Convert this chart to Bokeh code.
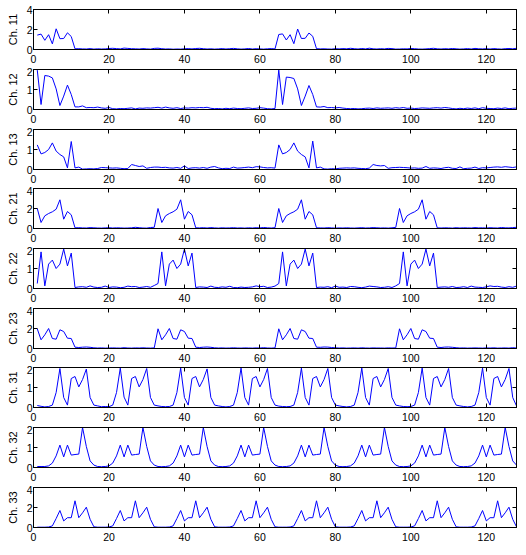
from bokeh.plotting import figure
from bokeh.layouts import column
from bokeh.models import LinearAxis, FixedTicker, Range1d
from bokeh.embed import file_html
from bokeh.resources import INLINE

# ---------------- data ----------------
samples = list(range(1, 129))
x_ticks = [0, 20, 40, 60, 80, 100, 120]

channel_names = ["Ch. 11", "Ch. 12", "Ch. 13", "Ch. 21", "Ch. 22", "Ch. 23",
                 "Ch. 31", "Ch. 32", "Ch. 33"]
y_max = [4, 2, 2, 4, 2, 4, 2, 2, 4]

ch11 = [1.44, 1.54, 0.92, 1.48, 0.56, 2.07, 1.08, 1.10,
        1.67, 1.30, 0.07, 0.08, 0.06, 0.05, 0.09, 0.04,
        0.07, 0.05, 0.06, 0.10, 0.12, 0.09, 0.06, 0.14,
        0.11, 0.08, 0.07, 0.05, 0.09, 0.06, 0.04, 0.11,
        0.13, 0.08, 0.05, 0.06, 0.03, 0.05, 0.04, 0.07,
        0.09, 0.06, 0.10, 0.12, 0.08, 0.05, 0.07, 0.04,
        0.06, 0.09, 0.05, 0.08, 0.11, 0.07, 0.04, 0.06,
        0.10, 0.05, 0.08, 0.06, 0.04, 0.07, 0.09, 0.06,
        1.50, 1.56, 0.95, 1.48, 0.58, 2.05, 1.10, 1.12,
        1.65, 1.32, 0.08, 0.06, 0.07, 0.05, 0.04, 0.08,
        0.06, 0.09, 0.07, 0.12, 0.08, 0.05, 0.10, 0.06,
        0.13, 0.07, 0.05, 0.08, 0.06, 0.11, 0.09, 0.04,
        0.05, 0.07, 0.06, 0.10, 0.08, 0.05, 0.04, 0.06,
        0.09, 0.12, 0.07, 0.05, 0.08, 0.06, 0.10, 0.07,
        0.04, 0.06, 0.09, 0.05, 0.11, 0.07, 0.06, 0.08,
        0.05, 0.09, 0.06, 0.04, 0.08, 0.10, 0.07, 0.12]

ch12 = [1.97, 0.25, 1.70, 1.67, 1.58, 1.03, 0.20, 0.67,
        1.22, 0.75, 0.13, 0.13, 0.18, 0.09, 0.10, 0.09,
        0.12, 0.08, 0.06, 0.10, 0.04, 0.03, 0.05, 0.04,
        0.06, 0.08, 0.03, 0.07, 0.06, 0.08, 0.07, 0.09,
        0.11, 0.07, 0.12, 0.08, 0.06, 0.09, 0.05, 0.08,
        0.07, 0.09, 0.08, 0.10, 0.09, 0.11, 0.06, 0.04,
        0.05, 0.03, 0.06, 0.04, 0.07, 0.05, 0.04, 0.06,
        0.08, 0.05, 0.06, 0.09, 0.07, 0.04, 0.03, 0.05,
        1.97, 0.25, 1.62, 1.60, 1.55, 1.03, 0.20, 0.67,
        1.20, 0.75, 0.13, 0.12, 0.15, 0.09, 0.10, 0.08,
        0.10, 0.07, 0.05, 0.04, 0.05, 0.03, 0.04, 0.06,
        0.07, 0.05, 0.08, 0.06, 0.07, 0.08, 0.06, 0.09,
        0.07, 0.10, 0.06, 0.07, 0.05, 0.06, 0.08, 0.07,
        0.06, 0.08, 0.09, 0.07, 0.10, 0.08, 0.05, 0.03,
        0.06, 0.04, 0.07, 0.05, 0.08, 0.04, 0.09, 0.06,
        0.05, 0.04, 0.07, 0.05, 0.08, 0.04, 0.06, 0.07]

ch13 = [1.23, 0.78, 0.85, 1.00, 1.33, 0.92, 0.75, 0.63,
        0.08, 1.40, 0.08, 0.12, 0.02, 0.03, 0.04, 0.03,
        0.05, 0.10, 0.09, 0.08, 0.07, 0.08, 0.06, 0.04,
        0.05, 0.25, 0.20, 0.15, 0.18, 0.06, 0.10, 0.12,
        0.12, 0.10, 0.11, 0.08, 0.07, 0.10, 0.06, 0.18,
        0.05, 0.08, 0.09, 0.07, 0.10, 0.06, 0.12, 0.15,
        0.08, 0.04, 0.06, 0.05, 0.12, 0.07, 0.08, 0.10,
        0.12, 0.09, 0.14, 0.13, 0.10, 0.08, 0.09, 0.07,
        1.23, 0.78, 0.85, 1.00, 1.33, 0.92, 0.75, 0.63,
        0.08, 1.42, 0.08, 0.12, 0.03, 0.02, 0.04, 0.03,
        0.06, 0.07, 0.08, 0.07, 0.08, 0.06, 0.05, 0.04,
        0.07, 0.25, 0.20, 0.18, 0.20, 0.06, 0.09, 0.10,
        0.11, 0.10, 0.09, 0.07, 0.08, 0.06, 0.07, 0.15,
        0.06, 0.08, 0.07, 0.05, 0.09, 0.11, 0.06, 0.05,
        0.13, 0.04, 0.06, 0.07, 0.12, 0.05, 0.09, 0.08,
        0.10, 0.12, 0.13, 0.11, 0.14, 0.12, 0.10, 0.13]

ch21 = [2.00, 0.60, 1.27, 1.50, 1.67, 1.93, 2.87, 0.93,
        1.70, 1.37, 0.07, 0.08, 0.06, 0.05, 0.09, 0.07,
        0.05, 0.04, 0.06, 0.08, 0.05, 0.07, 0.06, 0.04,
        0.05, 0.07, 0.12, 0.08, 0.05, 0.04, 0.10, 0.12,
        2.00, 0.60, 1.27, 1.50, 1.67, 1.93, 2.87, 0.93,
        1.70, 1.37, 0.07, 0.06, 0.08, 0.05, 0.09, 0.06,
        0.04, 0.07, 0.05, 0.06, 0.08, 0.05, 0.06, 0.04,
        0.07, 0.05, 0.08, 0.06, 0.10, 0.07, 0.05, 0.08,
        2.00, 0.60, 1.27, 1.50, 1.67, 1.93, 2.87, 0.93,
        1.70, 1.37, 0.07, 0.06, 0.05, 0.08, 0.06, 0.04,
        0.06, 0.05, 0.07, 0.05, 0.04, 0.06, 0.08, 0.05,
        0.06, 0.09, 0.07, 0.05, 0.06, 0.04, 0.07, 0.11,
        2.00, 0.60, 1.27, 1.50, 1.67, 1.93, 2.87, 0.93,
        1.70, 1.37, 0.07, 0.05, 0.07, 0.06, 0.04, 0.08,
        0.05, 0.07, 0.06, 0.05, 0.09, 0.06, 0.07, 0.05,
        0.08, 0.06, 0.05, 0.10, 0.07, 0.06, 0.09, 0.12]

ch22 = [0.25, 1.83, 0.13, 1.22, 1.42, 1.00, 1.22, 1.97,
        1.13, 1.77, 0.05, 0.08, 0.09, 0.06, 0.13, 0.07,
        0.05, 0.06, 0.12, 0.05, 0.08, 0.07, 0.04, 0.06,
        0.12, 0.09, 0.10, 0.05, 0.07, 0.10, 0.06, 0.15,
        0.25, 1.83, 0.13, 1.22, 1.42, 1.00, 1.22, 1.97,
        1.13, 1.77, 0.05, 0.08, 0.07, 0.05, 0.12, 0.06,
        0.05, 0.08, 0.06, 0.11, 0.05, 0.04, 0.07, 0.05,
        0.06, 0.08, 0.13, 0.09, 0.11, 0.05, 0.07, 0.12,
        0.25, 1.83, 0.13, 1.22, 1.42, 1.00, 1.22, 1.97,
        1.13, 1.77, 0.05, 0.07, 0.06, 0.09, 0.04, 0.12,
        0.06, 0.07, 0.05, 0.10, 0.09, 0.06, 0.04, 0.07,
        0.12, 0.10, 0.08, 0.05, 0.06, 0.09, 0.05, 0.13,
        0.25, 1.83, 0.13, 1.22, 1.42, 1.00, 1.22, 1.97,
        1.13, 1.77, 0.05, 0.07, 0.08, 0.06, 0.10, 0.05,
        0.06, 0.09, 0.05, 0.12, 0.07, 0.06, 0.05, 0.08,
        0.13, 0.10, 0.11, 0.07, 0.05, 0.09, 0.06, 0.12]

ch23 = [1.97, 0.87, 1.37, 2.00, 1.00, 0.93, 1.87, 1.70,
        1.03, 1.00, 0.13, 0.10, 0.13, 0.15, 0.12, 0.07,
        0.05, 0.06, 0.04, 0.05, 0.06, 0.05, 0.04, 0.08,
        0.05, 0.04, 0.06, 0.05, 0.07, 0.05, 0.04, 0.06,
        1.97, 0.87, 1.37, 2.00, 1.00, 0.93, 1.87, 1.70,
        1.03, 1.00, 0.13, 0.10, 0.13, 0.15, 0.12, 0.07,
        0.05, 0.06, 0.04, 0.05, 0.07, 0.05, 0.04, 0.06,
        0.05, 0.04, 0.06, 0.05, 0.08, 0.05, 0.04, 0.06,
        1.97, 0.87, 1.37, 2.00, 1.00, 0.93, 1.87, 1.70,
        1.03, 1.00, 0.13, 0.12, 0.15, 0.14, 0.10, 0.07,
        0.05, 0.06, 0.04, 0.05, 0.06, 0.04, 0.07, 0.05,
        0.04, 0.06, 0.05, 0.05, 0.04, 0.06, 0.05, 0.06,
        1.97, 0.87, 1.37, 2.00, 1.00, 0.93, 1.87, 1.70,
        1.03, 1.00, 0.13, 0.10, 0.14, 0.15, 0.12, 0.08,
        0.05, 0.06, 0.04, 0.05, 0.06, 0.05, 0.04, 0.06,
        0.05, 0.07, 0.04, 0.05, 0.06, 0.04, 0.08, 0.05]

ch31 = [0.10, 0.06, 0.03, 0.05, 0.12, 0.75, 1.95, 0.50,
        0.12, 1.45, 1.55, 1.03, 1.40, 1.92, 0.50, 0.12,
        0.08, 0.04, 0.05, 0.04, 0.12, 0.75, 1.97, 0.52,
        0.12, 1.45, 1.55, 1.03, 1.40, 1.95, 0.50, 0.12,
        0.08, 0.05, 0.04, 0.05, 0.12, 0.75, 1.97, 0.50,
        0.12, 1.45, 1.55, 1.03, 1.40, 1.93, 0.50, 0.12,
        0.08, 0.05, 0.03, 0.05, 0.12, 0.75, 1.97, 0.50,
        0.12, 1.45, 1.55, 1.03, 1.40, 1.95, 0.50, 0.12,
        0.07, 0.05, 0.04, 0.05, 0.12, 0.75, 1.97, 0.50,
        0.12, 1.45, 1.55, 1.03, 1.40, 1.95, 0.50, 0.12,
        0.08, 0.05, 0.03, 0.05, 0.12, 0.75, 1.97, 0.50,
        0.12, 1.45, 1.55, 1.03, 1.40, 1.95, 0.50, 0.12,
        0.08, 0.05, 0.04, 0.05, 0.12, 0.75, 1.97, 0.50,
        0.12, 1.45, 1.55, 1.03, 1.40, 1.95, 0.50, 0.12,
        0.08, 0.05, 0.03, 0.05, 0.12, 0.75, 1.97, 0.50,
        0.12, 1.45, 1.55, 1.03, 1.40, 1.95, 0.50, 0.08]

ch32 = [0.05, 0.05, 0.05, 0.08, 0.22, 0.58, 1.12, 0.53,
        1.12, 0.62, 0.65, 0.67, 2.00, 1.05, 0.33, 0.12,
        0.05, 0.04, 0.05, 0.08, 0.22, 0.58, 1.12, 0.53,
        1.12, 0.62, 0.65, 0.67, 2.00, 1.05, 0.33, 0.12,
        0.05, 0.04, 0.05, 0.08, 0.22, 0.58, 1.12, 0.53,
        1.12, 0.62, 0.65, 0.67, 2.00, 1.05, 0.33, 0.12,
        0.05, 0.04, 0.05, 0.08, 0.22, 0.58, 1.12, 0.53,
        1.12, 0.62, 0.65, 0.67, 2.00, 1.05, 0.33, 0.12,
        0.05, 0.04, 0.05, 0.08, 0.22, 0.58, 1.12, 0.53,
        1.12, 0.62, 0.65, 0.67, 2.00, 1.05, 0.33, 0.12,
        0.05, 0.04, 0.05, 0.08, 0.22, 0.58, 1.12, 0.53,
        1.12, 0.62, 0.65, 0.67, 2.00, 1.05, 0.33, 0.12,
        0.05, 0.04, 0.05, 0.08, 0.22, 0.58, 1.12, 0.53,
        1.12, 0.62, 0.65, 0.67, 2.00, 1.05, 0.33, 0.12,
        0.05, 0.04, 0.05, 0.08, 0.22, 0.58, 1.12, 0.53,
        1.12, 0.62, 0.65, 0.67, 2.00, 1.05, 0.33, 0.12]

ch33 = [0.03, 0.03, 0.03, 0.05, 0.16, 0.90, 1.70, 0.66,
        0.98, 0.98, 2.67, 0.98, 1.47, 2.03, 0.82, 0.07,
        0.03, 0.03, 0.03, 0.05, 0.16, 0.90, 1.70, 0.66,
        0.98, 0.98, 2.67, 0.98, 1.47, 2.03, 0.82, 0.07,
        0.03, 0.03, 0.03, 0.05, 0.16, 0.90, 1.70, 0.66,
        0.98, 0.98, 2.67, 0.98, 1.47, 2.03, 0.82, 0.07,
        0.03, 0.03, 0.03, 0.05, 0.16, 0.90, 1.70, 0.66,
        0.98, 0.98, 2.67, 0.98, 1.47, 2.03, 0.82, 0.07,
        0.03, 0.03, 0.03, 0.05, 0.16, 0.90, 1.70, 0.66,
        0.98, 0.98, 2.67, 0.98, 1.47, 2.03, 0.82, 0.07,
        0.03, 0.03, 0.03, 0.05, 0.16, 0.90, 1.70, 0.66,
        0.98, 0.98, 2.67, 0.98, 1.47, 2.03, 0.82, 0.07,
        0.03, 0.03, 0.03, 0.05, 0.16, 0.90, 1.70, 0.66,
        0.98, 0.98, 2.67, 0.98, 1.47, 2.03, 0.82, 0.07,
        0.03, 0.03, 0.03, 0.05, 0.16, 0.90, 1.70, 0.66,
        0.98, 0.98, 2.67, 0.98, 1.47, 2.03, 0.82, 0.07]

channels = [ch11, ch12, ch13, ch21, ch22, ch23, ch31, ch32, ch33]

# ---------------- layout ----------------
FONT = "Liberation Sans"
FS = "10.5px"
heights = [60, 60, 59, 60, 60, 59, 60, 60, 58]
top_borders = [9, 2, 2, 2, 2, 2, 2, 2, 2]

figs = []
for i, (name, ys, ym) in enumerate(zip(channel_names, channels, y_max)):
    tb = top_borders[i]
    h = heights[i] + (tb - 2)
    bb = h - 40 - tb
    p = figure(width=518, height=h, output_backend="svg", toolbar_location=None,
               x_range=Range1d(0, 128), y_range=Range1d(0, ym),
               min_border_left=33, min_border_right=2,
               min_border_top=tb, min_border_bottom=bb,
               frame_width=483, frame_height=40,
               x_axis_type=None, y_axis_type=None)
    p.background_fill_color = "white"
    p.border_fill_color = "white"
    p.outline_line_color = "black"
    p.xgrid.visible = False
    p.ygrid.visible = False
    yt = [0, ym / 2, ym]

    def make_axis(ticks, show_labels, label=None):
        ax = LinearAxis(ticker=FixedTicker(ticks=ticks))
        ax.major_tick_in = 4
        ax.major_tick_out = 0
        ax.minor_tick_line_color = None
        ax.major_tick_line_color = "black"
        ax.axis_line_color = "black"
        ax.major_label_text_font = FONT
        if show_labels:
            ax.major_label_text_font_size = FS
            ax.major_label_text_color = "black"
        else:
            ax.major_label_text_font_size = "1px"
            ax.major_label_text_color = None
            ax.major_label_standoff = 0
        if label:
            ax.axis_label = label
            ax.axis_label_text_font = FONT
            ax.axis_label_text_font_size = "11px"
            ax.axis_label_text_font_style = "normal"
            ax.axis_label_text_color = "black"
            ax.axis_label_standoff = 5
        return ax

    bx = make_axis(x_ticks, True)
    bx.major_label_standoff = 5
    p.add_layout(bx, "below")
    tx = make_axis(x_ticks, False)
    p.add_layout(tx, "above")
    ly = make_axis(yt, True, name)
    ly.major_label_standoff = 1
    ly.major_label_overrides = {v: str(int(v)) for v in yt}
    p.add_layout(ly, "left")
    ry = make_axis(yt, False)
    p.add_layout(ry, "right")

    p.line(samples, ys, line_color="#0000ff", line_width=1)
    figs.append(p)

layout = column(*figs, spacing=0)
open("out.html", "w").write(file_html(layout, INLINE))
